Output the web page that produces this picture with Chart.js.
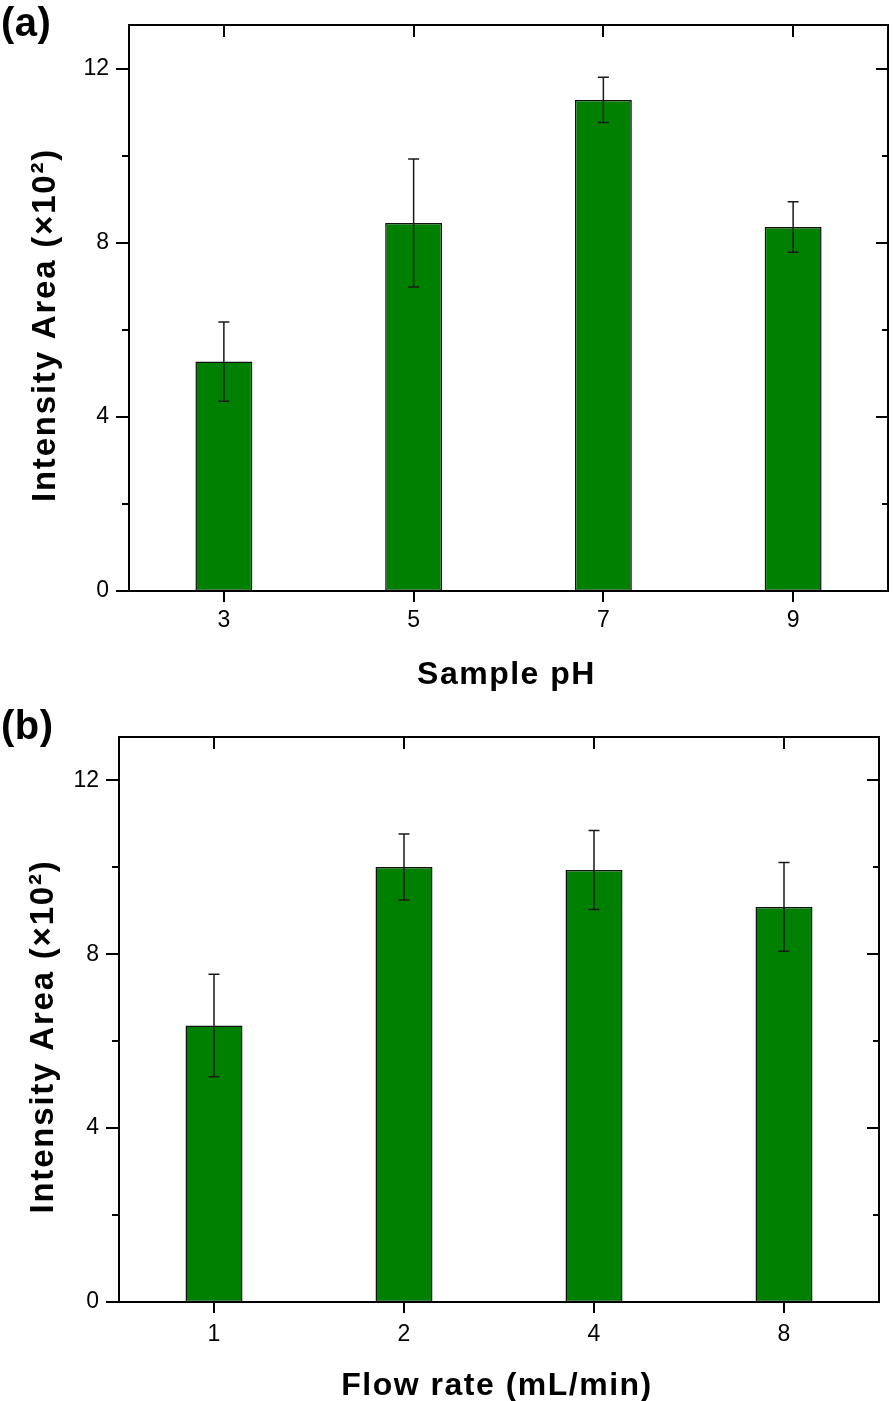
<!DOCTYPE html>
<html>
<head>
<meta charset="utf-8">
<script src="https://cdn.jsdelivr.net/npm/chart.js@4"></script>
<style>
  body { margin: 0; background: #fff; }
  canvas { position: absolute; left: 0; }
  #chartA { top: 0; }
  #chartB { top: 700px; }
</style>
</head>
<body>
<canvas id="chartA" width="894" height="700"></canvas>
<canvas id="chartB" width="894" height="701"></canvas>
<script>
// panel (a): sample pH
const phLabels = ['3', '5', '7', '9'];
const phArea = [5.27, 8.45, 11.28, 8.36];
const phErr = [0.91, 1.47, 0.52, 0.58];

// panel (b): flow rate
const flowLabels = ['1', '2', '4', '8'];
const flowArea = [6.36, 10.01, 9.94, 9.09];
const flowErr = [1.18, 0.76, 0.91, 1.02];

const yMajor = [0, 4, 8, 12];
const yMinor = [2, 6, 10];

const FONT = '"Liberation Sans", Arial, sans-serif';

const framePlugin = {
    id: 'frame',
    afterDatasetsDraw(chart, args, opts) {
        const ctx = chart.ctx;
        const y = chart.scales.y;
        const ds = chart.data.datasets[0];
        const meta = chart.getDatasetMeta(0);
        ctx.save();
        ctx.strokeStyle = '#1a1a1a';
        ctx.lineWidth = 1.5;
        meta.data.forEach((bar, i) => {
            const v = ds.data[i];
            const e = opts.errors[i];
            const yTop = y.getPixelForValue(v + e);
            const yBot = y.getPixelForValue(v - e);
            ctx.beginPath();
            ctx.moveTo(bar.x, yTop);
            ctx.lineTo(bar.x, yBot);
            ctx.moveTo(bar.x - 5.5, yTop);
            ctx.lineTo(bar.x + 5.5, yTop);
            ctx.moveTo(bar.x - 5.5, yBot);
            ctx.lineTo(bar.x + 5.5, yBot);
            ctx.stroke();
        });
        ctx.restore();
    },
    afterDraw(chart, args, opts) {
        const ctx = chart.ctx;
        const {left, right, top, bottom} = chart.chartArea;
        const x = chart.scales.x;
        const y = chart.scales.y;
        ctx.save();
        ctx.strokeStyle = '#000';
        ctx.lineWidth = 2;
        ctx.strokeRect(left, top, right - left, bottom - top);

        ctx.beginPath();
        // y ticks: outward on the left, inward on the right
        yMajor.forEach(v => {
            const py = Math.round(y.getPixelForValue(v));
            ctx.moveTo(left - 13, py); ctx.lineTo(left, py);
            ctx.moveTo(right - 12, py); ctx.lineTo(right, py);
        });
        yMinor.forEach(v => {
            const py = Math.round(y.getPixelForValue(v));
            ctx.moveTo(left - 7, py); ctx.lineTo(left, py);
            ctx.moveTo(right - 6, py); ctx.lineTo(right, py);
        });
        // x ticks: outward at the bottom, inward at the top
        chart.data.labels.forEach((l, i) => {
            const px = Math.round(x.getPixelForValue(i));
            ctx.moveTo(px, bottom); ctx.lineTo(px, bottom + 11);
            ctx.moveTo(px, top); ctx.lineTo(px, top + 12);
        });
        ctx.stroke();

        ctx.fillStyle = '#000';
        ctx.letterSpacing = '1.5px';
        ctx.font = 'bold 32px ' + FONT;
        ctx.textAlign = 'center';
        ctx.textBaseline = 'alphabetic';
        ctx.fillText(opts.xTitle, (left + right) / 2 - 2, bottom + 93);

        ctx.save();
        ctx.letterSpacing = '1.8px';
        ctx.font = 'bold 33px ' + FONT;
        ctx.translate(opts.yTitleX, (top + bottom) / 2 + 17);
        ctx.rotate(-Math.PI / 2);
        ctx.textBaseline = 'middle';
        ctx.fillText(opts.yTitle, 0, 0);
        ctx.restore();

        ctx.letterSpacing = '0.5px';
        ctx.font = 'bold 40px ' + FONT;
        ctx.textAlign = 'left';
        ctx.textBaseline = 'middle';
        ctx.fillText(opts.panel, 1, opts.panelY);
        ctx.restore();
    }
};

function makeChart(id, labels, values, errors, xTitle, panel, box) {
    const ctx = document.getElementById(id).getContext('2d');
    return new Chart(ctx, {
        type: 'bar',
        data: {
            labels: labels,
            datasets: [{
                data: values,
                backgroundColor: '#008000',
                borderColor: '#111',
                borderWidth: 1.5,
                borderSkipped: false,
                categoryPercentage: 1,
                barPercentage: 0.3
            }]
        },
        options: {
            responsive: false,
            animation: false,
            devicePixelRatio: 1,
            layout: { padding: { top: box.top, right: box.right, left: 0, bottom: 0 } },
            plugins: {
                legend: { display: false },
                tooltip: { enabled: false },
                frame: {
                    errors: errors,
                    xTitle: xTitle,
                    yTitle: 'Intensity Area (×10²)',
                    yTitleX: box.yTitleX,
                    panel: panel,
                    panelY: box.panelY
                }
            },
            scales: {
                x: {
                    grid: { display: false, drawTicks: false },
                    border: { display: false },
                    ticks: {
                        color: '#000',
                        padding: box.xPad,
                        font: { family: FONT, size: 23 }
                    },
                    afterFit: scale => {
                        scale.height = box.xHeight;
                        scale.paddingLeft = 0;
                        scale.paddingRight = 0;
                    }
                },
                y: {
                    min: 0,
                    max: 13,
                    grid: { display: false, drawTicks: false },
                    border: { display: false },
                    ticks: {
                        color: '#000',
                        padding: 20,
                        font: { family: FONT, size: 23 }
                    },
                    afterBuildTicks: scale => {
                        scale.ticks = yMajor.map(v => ({ value: v }));
                    },
                    afterFit: scale => {
                        scale.width = box.yWidth;
                        scale.paddingTop = 0;
                        scale.paddingBottom = 0;
                    }
                }
            }
        },
        plugins: [framePlugin]
    });
}

makeChart('chartA', phLabels, phArea, phErr, 'Sample pH', '(a)',
    { top: 25, right: 6, yWidth: 129, xHeight: 109, xPad: 16, yTitleX: 46, panelY: 25 });
makeChart('chartB', flowLabels, flowArea, flowErr, 'Flow rate (mL/min)', '(b)',
    { top: 37, right: 15, yWidth: 119, xHeight: 99, xPad: 19, yTitleX: 44, panelY: 28 });
</script>
</body>
</html>
